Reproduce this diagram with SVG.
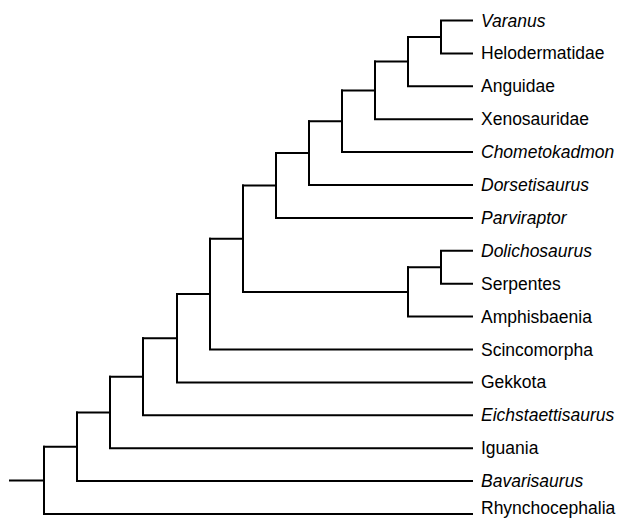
<svg xmlns="http://www.w3.org/2000/svg" width="617" height="518" viewBox="0 0 617 518">
<style>
.br{fill:none;stroke:#000;stroke-width:2;stroke-linecap:square}
.t{font-family:"Liberation Sans",Arial,sans-serif;font-size:17.5px;fill:#000}
.i{font-style:italic}
</style>
<rect width="617" height="518" fill="#fff"/>
<g id="connectors" class="br">
<path d="M10,480.4H44M44,446.8V514H472"/>
<path d="M44,446.8H77M77,412.5V481.1H472"/>
<path d="M77,412.5H110M110,376.8V448.2H472"/>
<path d="M110,376.8H143M143,338.25V415.3H472"/>
<path d="M143,338.25H177M177,294.1V382.4H472"/>
<path d="M177,294.1H210M210,238.7V349.5H472"/>
<path d="M210,238.7H243M243,185.5V291.9H408"/>
<path d="M408,267.25V316.6H472"/>
<path d="M408,267.25H441M441,250.8V283.7H472M441,250.8H472"/>
<path d="M243,185.5H276M276,153.1V217.9H472"/>
<path d="M276,153.1H309M309,121.25V185H472"/>
<path d="M309,121.25H342M342,90.4V152.1H472"/>
<path d="M342,90.4H375M375,61.6V119.2H472"/>
<path d="M375,61.6H408M408,36.95V86.3H472"/>
<path d="M408,36.95H441M441,20.5V53.4H472M441,20.5H472"/>
</g>
<g id="varanus"><text class="t i" x="481" y="26.5">Varanus</text></g>
<g id="helodermatidae"><text class="t" x="481" y="59.4">Helodermatidae</text></g>
<g id="anguidae"><text class="t" x="481" y="92.3">Anguidae</text></g>
<g id="xenosauridae"><text class="t" x="481" y="125.2">Xenosauridae</text></g>
<g id="chometokadmon"><text class="t i" x="481" y="158.1">Chometokadmon</text></g>
<g id="dorsetisaurus"><text class="t i" x="481" y="191">Dorsetisaurus</text></g>
<g id="parviraptor"><text class="t i" x="481" y="223.9">Parviraptor</text></g>
<g id="dolichosaurus"><text class="t i" x="481" y="256.8">Dolichosaurus</text></g>
<g id="serpentes"><text class="t" x="481" y="289.7">Serpentes</text></g>
<g id="amphisbaenia"><text class="t" x="481" y="322.6">Amphisbaenia</text></g>
<g id="scincomorpha"><text class="t" x="481" y="355.5">Scincomorpha</text></g>
<g id="gekkota"><text class="t" x="481" y="388.4">Gekkota</text></g>
<g id="eichstaettisaurus"><text class="t i" x="481" y="421.3">Eichstaettisaurus</text></g>
<g id="iguania"><text class="t" x="481" y="454.2">Iguania</text></g>
<g id="bavarisaurus"><text class="t i" x="481" y="487.1">Bavarisaurus</text></g>
<g id="rhynchocephalia"><text class="t" x="481" y="513.5">Rhynchocephalia</text></g>
</svg>
